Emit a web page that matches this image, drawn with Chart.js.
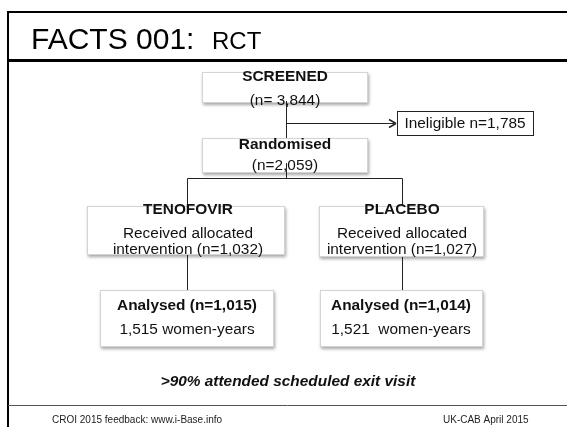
<!DOCTYPE html>
<html>
<head>
<meta charset="utf-8">
<script src="https://cdn.jsdelivr.net/npm/chart.js@4.4.1/dist/chart.umd.min.js"></script>
<style>
  html, body { margin: 0; padding: 0; background: #fff; }
  #wrap { width: 567px; height: 427px; }
</style>
</head>
<body>
<div id="wrap"><canvas id="flowChart"></canvas></div>
<script>
// trial numbers
const stageNames = ['SCREENED', 'Randomised', 'TENOFOVIR', 'PLACEBO'];
const stageCounts = [3844, 2059, 1032, 1027];
const ineligibleCount = 1785;
const analysedCounts = [1015, 1014];
const womenYears = [1515, 1521];
const exitVisitPct = 90;

const fmt = n => n.toLocaleString('en-US');

// layout in slide units (x 0-567, y 0-427), mapped through the chart scales
const layout = {
  screened:   [202, 72, 368, 103],
  randomised: [202, 138, 368, 173],
  ineligible: [397, 111, 534, 136],
  teno:       [87, 206, 285, 255],
  placebo:    [319, 206, 484, 257],
  anTeno:     [100, 290, 274, 347],
  anPlacebo:  [320, 290, 483, 347]
};

const flowPlugin = {
  id: 'flow',
  afterDraw(chart) {
    const ctx = chart.ctx;
    const X = v => chart.scales.x.getPixelForValue(v);
    const Y = v => chart.scales.y.getPixelForValue(v);

    // slide frame
    ctx.save();
    ctx.strokeStyle = '#000';
    ctx.lineWidth = 2;
    ctx.beginPath();
    ctx.moveTo(X(8), Y(427)); ctx.lineTo(X(8), Y(12)); ctx.lineTo(X(567), Y(12));
    ctx.stroke();
    ctx.lineWidth = 3;
    ctx.beginPath(); ctx.moveTo(X(8), Y(60.5)); ctx.lineTo(X(567), Y(60.5)); ctx.stroke();
    ctx.lineWidth = 1;
    ctx.strokeStyle = '#555';
    ctx.beginPath(); ctx.moveTo(X(8), Y(405.5)); ctx.lineTo(X(567), Y(405.5)); ctx.stroke();

    // title
    ctx.fillStyle = '#000';
    ctx.textBaseline = 'alphabetic';
    ctx.textAlign = 'left';
    ctx.font = '30px "Liberation Sans", Arial, sans-serif';
    ctx.fillText('FACTS 001:', X(31), Y(49));
    ctx.font = '24px "Liberation Sans", Arial, sans-serif';
    ctx.fillText('RCT', X(212), Y(49));
    ctx.restore();

    // shadowed boxes
    const box = (b) => {
      ctx.save();
      ctx.shadowColor = 'rgba(0,0,0,0.35)';
      ctx.shadowBlur = 3;
      ctx.shadowOffsetX = 1;
      ctx.shadowOffsetY = 2;
      ctx.fillStyle = '#fff';
      ctx.fillRect(X(b[0]), Y(b[1]), X(b[2]) - X(b[0]), Y(b[3]) - Y(b[1]));
      ctx.restore();
      ctx.save();
      ctx.strokeStyle = '#d4d4d4';
      ctx.lineWidth = 1;
      ctx.strokeRect(X(b[0]) + 0.5, Y(b[1]) + 0.5, X(b[2]) - X(b[0]) - 1, Y(b[3]) - Y(b[1]) - 1);
      ctx.restore();
    };
    ['screened', 'randomised', 'teno', 'placebo', 'anTeno', 'anPlacebo'].forEach(k => box(layout[k]));

    // ineligible box: plain outline
    const ib = layout.ineligible;
    ctx.save();
    ctx.strokeStyle = '#222';
    ctx.lineWidth = 1;
    ctx.strokeRect(X(ib[0]) + 0.5, Y(ib[1]) + 0.5, X(ib[2]) - X(ib[0]) - 1, Y(ib[3]) - Y(ib[1]) - 1);
    ctx.restore();

    // connectors
    ctx.save();
    ctx.strokeStyle = '#222';
    ctx.lineWidth = 1;
    const seg = (x1, y1, x2, y2) => {
      ctx.beginPath(); ctx.moveTo(X(x1), Y(y1)); ctx.lineTo(X(x2), Y(y2)); ctx.stroke();
    };
    seg(286.5, 101, 286.5, 138);
    seg(286.5, 123.5, 394, 123.5);
    seg(286.5, 163, 286.5, 178.5);
    seg(187.5, 178.5, 402.5, 178.5);
    seg(187.5, 178.5, 187.5, 206);
    seg(402.5, 178.5, 402.5, 206);
    seg(187.5, 255, 187.5, 290);
    seg(402.5, 257, 402.5, 290);
    // arrow head
    ctx.beginPath();
    ctx.moveTo(X(396), Y(123.5));
    ctx.lineTo(X(389), Y(119.5));
    ctx.moveTo(X(396), Y(123.5));
    ctx.lineTo(X(389), Y(127.5));
    ctx.lineWidth = 1.5;
    ctx.stroke();
    ctx.restore();

    // box texts (slide text runs a little wider than Arial, so stretch it)
    ctx.save();
    ctx.fillStyle = '#111';
    ctx.textAlign = 'center';
    ctx.textBaseline = 'middle';
    const fam = '"Liberation Sans", Arial, sans-serif';
    const txt = (s, x, y, font) => {
      ctx.save();
      ctx.font = font;
      ctx.translate(X(x), Y(y));
      ctx.scale(1.1, 1);
      ctx.fillText(s, 0, 0);
      ctx.restore();
    };
    txt(stageNames[0], 285, 77, 'bold 14px ' + fam);
    txt('(n= ' + fmt(stageCounts[0]) + ')', 285, 101, '14px ' + fam);
    txt(stageNames[1], 285, 145, 'bold 14px ' + fam);
    txt('(n=' + fmt(stageCounts[1]) + ')', 285, 166, '14px ' + fam);
    txt('Ineligible n=' + fmt(ineligibleCount), 465, 124, '14px ' + fam);

    const arms = [188, 402];
    arms.forEach((cx, i) => {
      txt(stageNames[2 + i], cx, 210, 'bold 14px ' + fam);
      txt('Received allocated', cx, 234, '14px ' + fam);
      txt('intervention (n=' + fmt(stageCounts[2 + i]) + ')', cx, 250, '14px ' + fam);
    });
    const anX = [187, 401];
    const gap = [' ', '  '];
    anX.forEach((cx, i) => {
      txt('Analysed (n=' + fmt(analysedCounts[i]) + ')', cx, 306, 'bold 14px ' + fam);
      txt(fmt(womenYears[i]) + gap[i] + 'women-years', cx, 330, '14px ' + fam);
    });
    txt('>' + exitVisitPct + '% attended scheduled exit visit', 288, 382, 'italic bold 14px ' + fam);

    // footer
    ctx.fillStyle = '#222';
    ctx.textAlign = 'left';
    ctx.font = '10px ' + fam;
    ctx.fillText('CROI 2015 feedback: www.i-Base.info', X(52), Y(420));
    ctx.fillText('UK-CAB April 2015', X(443), Y(420));
    ctx.restore();
  }
};

new Chart(document.getElementById('flowChart'), {
  type: 'scatter',
  data: { datasets: [{ data: [], pointRadius: 0 }] },
  options: {
    responsive: true,
    maintainAspectRatio: false,
    animation: false,
    layout: { padding: 0 },
    plugins: { legend: { display: false }, tooltip: { enabled: false } },
    scales: {
      x: { type: 'linear', min: 0, max: 567, display: false },
      y: { type: 'linear', min: 0, max: 427, reverse: true, display: false }
    }
  },
  plugins: [flowPlugin]
});
</script>
</body>
</html>
